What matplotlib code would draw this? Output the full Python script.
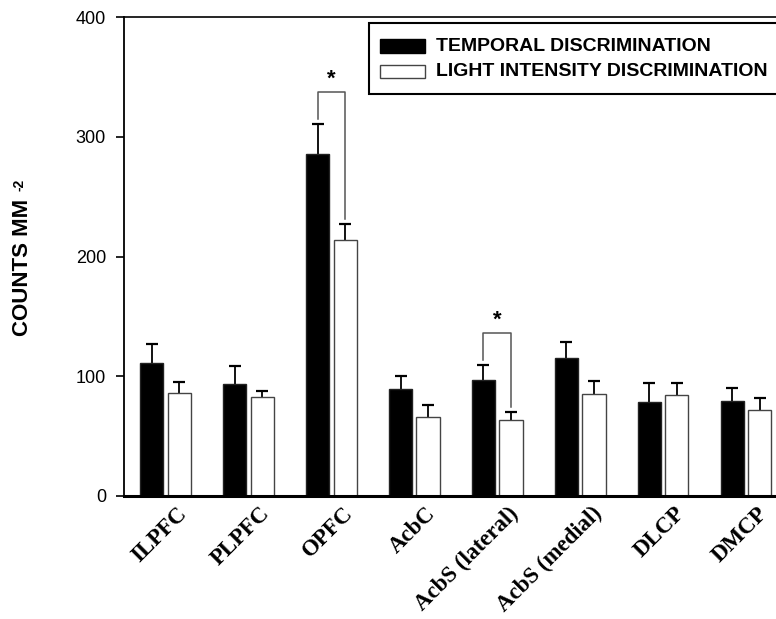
import matplotlib
matplotlib.use("Agg")
import matplotlib.pyplot as plt
from matplotlib.patches import Rectangle
import matplotlib.transforms as mtransforms
import numpy as np

categories = ['ILPFC', 'PLPFC', 'OPFC', 'AcbC', 'AcbS (lateral)',
              'AcbS (medial)', 'DLCP', 'DMCP']
temporal = [110.7, 93.9, 286.0, 89.4, 96.5, 115.0, 78.8, 79.1]
temporal_sem = [16.3, 14.7, 25.0, 10.6, 13.3, 13.7, 15.4, 10.9]
light = [85.8, 83.0, 213.8, 66.0, 63.5, 85.2, 84.7, 72.1]
light_sem = [9.2, 4.5, 13.3, 10.3, 6.7, 11.2, 9.7, 9.5]
significant = [2, 4]
yticks = [0, 100, 200, 300, 400]
series_names = ['TEMPORAL DISCRIMINATION', 'LIGHT INTENSITY DISCRIMINATION']

plt.rcParams['font.family'] = ['Liberation Sans', 'DejaVu Sans']

W, H = 776, 619
fig = plt.figure(figsize=(W / 100, H / 100), dpi=100)
ax = fig.add_axes([124 / W, 123 / H, (787.5 - 124) / W, (496 - 17) / H])

x = np.arange(len(categories))
bw = 0.28
off = 0.166
ax.bar(x - off, temporal, bw, color='black', edgecolor='#222222', linewidth=1.0, zorder=2)
ax.bar(x + off, light, bw, color='white', edgecolor='#444444', linewidth=1.0, zorder=2)
for xs, vals, errs in [(x - off, temporal, temporal_sem), (x + off, light, light_sem)]:
    eb = ax.errorbar(xs, vals, yerr=[np.zeros(len(x)), errs], fmt='none',
                     ecolor='black', elinewidth=1.3, capsize=4.5, capthick=1.6, zorder=1)
    eb[1][0].set_visible(False)

for i in significant:
    tb = temporal[i] + temporal_sem[i]
    lb = light[i] + light_sem[i]
    top = max(tb, lb) + 26
    ax.plot([i - off, i - off, i + off, i + off], [tb + 4, top, top, lb + 4],
            color='#555555', linewidth=1.1, zorder=3)
    ax.text(i, top + 11, '*', ha='center', va='center', fontsize=16,
            fontweight='bold', color='black')

ax.set_xlim(-0.5, len(categories) - 0.5)
ax.set_ylim(0, 400)
ax.set_yticks(yticks)
ax.set_yticklabels([str(t) for t in yticks], fontsize=13)
ax.tick_params(axis='y', direction='out', length=6, width=1.2, pad=7)
ax.set_xticks(x)
ax.tick_params(axis='x', length=0, pad=5)
ax.set_xticklabels(categories, rotation=45, ha='right', va='top',
                   rotation_mode='anchor', fontsize=16.5, fontweight='bold',
                   family=['Liberation Serif', 'DejaVu Serif'])
shift = mtransforms.ScaledTranslation(11 / 100, 0, fig.dpi_scale_trans)
for lab in ax.get_xticklabels():
    lab.set_transform(lab.get_transform() + shift)

ax.spines['left'].set_linewidth(1.3)
ax.spines['bottom'].set_linewidth(2.2)
ax.spines['top'].set_linewidth(1.2)
ax.spines['right'].set_visible(False)

fig.text(23 / W, 1 - 267 / H, 'COUNTS MM', rotation=90, ha='center',
         va='center', fontsize=16, fontweight='bold')
fig.text(20 / W, 1 - 185 / H, '-2', rotation=90, ha='center',
         va='center', fontsize=10, fontweight='bold')

def fx(px):
    return px / W

def fy(py):
    return 1 - py / H

fig.add_artist(Rectangle((fx(369), fy(94)), fx(830) - fx(369), fy(23) - fy(94),
                         transform=fig.transFigure, facecolor='white',
                         edgecolor='black', linewidth=1.5, clip_on=False, zorder=5))
fig.add_artist(Rectangle((fx(380), fy(53)), fx(425) - fx(380), fy(39) - fy(53),
                         transform=fig.transFigure, facecolor='black',
                         edgecolor='black', linewidth=1.0, zorder=6))
fig.add_artist(Rectangle((fx(380), fy(78)), fx(425) - fx(380), fy(65) - fy(78),
                         transform=fig.transFigure, facecolor='white',
                         edgecolor='#444444', linewidth=1.0, zorder=6))
fig.text(fx(436), fy(46.5), series_names[0], ha='left', va='center',
         fontsize=14, fontweight='bold', zorder=7)
fig.text(fx(436), fy(72), series_names[1], ha='left', va='center',
         fontsize=14, fontweight='bold', zorder=7)

fig.savefig('out.png', dpi=100)
